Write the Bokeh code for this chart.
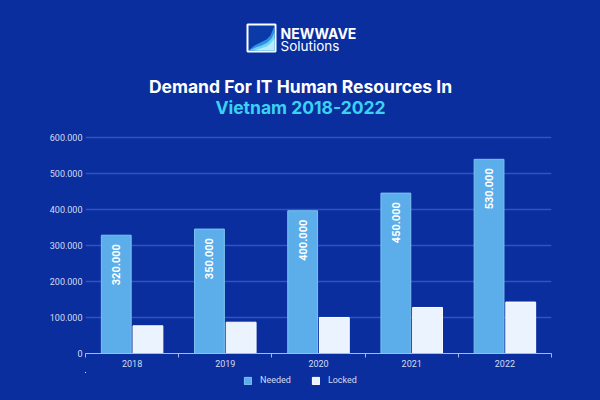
import numpy as np
from bokeh.plotting import figure
from bokeh.layouts import column
from bokeh.models import Range1d, FixedTicker, Legend, LegendItem
from bokeh.core.properties import value
from bokeh.embed import file_html
from bokeh.resources import INLINE

# ---- data ----
years = ["2018", "2019", "2020", "2021", "2022"]
needed = [329000, 346000, 397000, 446000, 540000]
locked = [77000, 87000, 100000, 128000, 143000]
needed_labels = ["320.000", "350.000", "400.000", "450.000", "530.000"]
y_ticks = [0, 100000, 200000, 300000, 400000, 500000, 600000]
y_tick_labels = ["0", "100.000", "200.000", "300.000", "400.000", "500.000", "600.000"]
series_names = ["Needed", "Locked"]
title_line1 = "Demand For IT Human Resources In"
title_line2 = "Vietnam 2018-2022"

BG = "#0b2e9e"
NEEDED_C = "#5caeea"
NEEDED_EDGE = "#7cc2f2"
LOCKED_C = "#eaf3fe"
TEXT_C = "#d3dcf2"

W = 600
H1 = 128
H3 = 28
H2 = 400 - H1 - H3
FL, FR = 85, 551  # frame left / right in page pixels (column aligns frames)


def blank(h, yr, xr=None):
    f = figure(width=W, height=h, x_range=xr if xr is not None else Range1d(FL, FR),
               y_range=yr, x_axis_type=None, y_axis_type=None, toolbar_location=None,
               output_backend="svg", min_border=0,
               min_border_left=FL, min_border_right=W - FR)
    f.background_fill_color = BG
    f.border_fill_color = BG
    f.outline_line_color = None
    f.grid.visible = False
    return f


# ---- header (logo + title) ----
head = blank(H1, Range1d(H1, 0))
head.quad(left=[247], right=[275], top=[24], bottom=[51], fill_color="#0a3aa8",
          line_color="white", line_width=2)
head.patch([249, 254, 260, 266, 270, 272, 274, 274, 249],
           [49, 45, 42, 39, 35, 30, 25, 50, 50], fill_color="#2f8fe0", line_color=None)
head.patch([249, 255, 261, 267, 271, 274, 274, 249],
           [50, 47, 45, 42, 38, 32, 50, 50], fill_color="#6fd3f3", line_color=None)
head.patch([254, 260, 266, 270, 274, 274, 258],
           [50, 48, 46, 43, 38, 50, 50], fill_color="#b9ecfb", line_color=None)
head.text(x=[280], y=[32.5], text=["NEWWAVE"], text_font=value("Inter"),
          text_font_style="bold", text_font_size="14px", text_color="white",
          text_baseline="middle", text_align="left")
head.text(x=[280], y=[45.5], text=["Solutions"], text_font=value("Inter"),
          text_font_size="13.5px", text_color="white",
          text_baseline="middle", text_align="left")
head.text(x=[W / 2], y=[86], text=[title_line1], text_font=value("Inter"),
          text_font_style="bold", text_font_size="17.5px", text_color="white",
          text_baseline="middle", text_align="center")
head.text(x=[W / 2], y=[107], text=[title_line2], text_font=value("Inter"),
          text_font_style="bold", text_font_size="17.5px", text_color="#3ad2f3",
          text_baseline="middle", text_align="center")

# ---- chart ----
n = len(years)
xc = np.arange(n) + 0.5
p = figure(width=W, height=H2, x_range=Range1d(0, n), y_range=Range1d(0, 609000),
           toolbar_location=None, output_backend="svg",
           min_border_top=6, min_border_left=FL, min_border_right=W - FR, min_border_bottom=19)
p.background_fill_color = BG
p.border_fill_color = BG
p.outline_line_color = None

p.vbar(x=xc - 0.17, top=needed, width=0.32, fill_color=NEEDED_C,
       line_color=NEEDED_EDGE, line_width=1)
p.vbar(x=xc + 0.17, top=locked, width=0.32, fill_color=LOCKED_C,
       line_color="#ffffff", line_width=1)

p.text(x=xc - 0.17, y=needed, text=needed_labels, angle=np.pi / 2,
       text_align="right", text_baseline="middle", y_offset=9,
       text_font=value("Roboto"), text_font_style="bold", text_font_size="11px",
       text_color="white")

# y axis
p.yaxis.ticker = FixedTicker(ticks=y_ticks)
p.yaxis.major_label_overrides = {t: l for t, l in zip(y_ticks, y_tick_labels)}
p.yaxis.axis_line_color = None
p.yaxis.major_tick_line_color = None
p.yaxis.major_tick_out = 0
p.yaxis.major_tick_in = 0
p.yaxis.minor_tick_line_color = None
p.yaxis.major_label_standoff = 3
p.yaxis.major_label_text_font = "Roboto"
p.yaxis.major_label_text_font_size = "9px"
p.yaxis.major_label_text_color = TEXT_C

# x axis
p.xaxis.ticker = FixedTicker(ticks=list(xc), minor_ticks=list(range(n + 1)))
p.xaxis.major_label_overrides = {float(x): y for x, y in zip(xc, years)}
p.xaxis.axis_line_color = "#a8b8e2"
p.xaxis.axis_line_width = 1
p.xaxis.major_tick_line_color = None
p.xaxis.major_tick_out = 0
p.xaxis.major_tick_in = 0
p.xaxis.minor_tick_line_color = "#a8b8e2"
p.xaxis.minor_tick_out = 4
p.xaxis.minor_tick_in = 0
p.xaxis.major_label_standoff = 2
p.xaxis.major_label_text_font = "Roboto"
p.xaxis.major_label_text_font_size = "9px"
p.xaxis.major_label_text_color = TEXT_C

p.xgrid.visible = False
p.ygrid.ticker = FixedTicker(ticks=y_ticks[1:])
p.ygrid.grid_line_color = "#2d55c0"
p.ygrid.grid_line_width = 1.5

# ---- footer legend (swatch renderers lie outside the footer's visible ranges) ----
foot = blank(H3, Range1d(-H3 - 5, -5), Range1d(10, 20))
l1 = foot.vbar(x=xc, top=needed, width=0.32, fill_color=NEEDED_C, line_color=NEEDED_EDGE)
l2 = foot.vbar(x=xc, top=locked, width=0.32, fill_color=LOCKED_C, line_color="#ffffff")
legend = Legend(items=[LegendItem(label=series_names[0], renderers=[l1]),
                       LegendItem(label=series_names[1], renderers=[l2])],
                orientation="horizontal", location=(243 - FL, 15))
legend.background_fill_alpha = 0
legend.border_line_color = None
legend.label_text_color = TEXT_C
legend.label_text_font = "Roboto"
legend.label_text_font_size = "9px"
legend.label_height = 9
legend.glyph_width = 9
legend.glyph_height = 9
legend.label_standoff = 8
legend.spacing = 20
legend.padding = 0
legend.margin = 0
foot.add_layout(legend, "center")

layout = column(head, p, foot, spacing=0)
html = file_html(layout, INLINE)
html = html.replace("</head>",
                    "<style>html,body{margin:0;padding:0;background:%s;overflow:hidden;}</style></head>" % BG, 1)
open("out.html", "w").write(html)
